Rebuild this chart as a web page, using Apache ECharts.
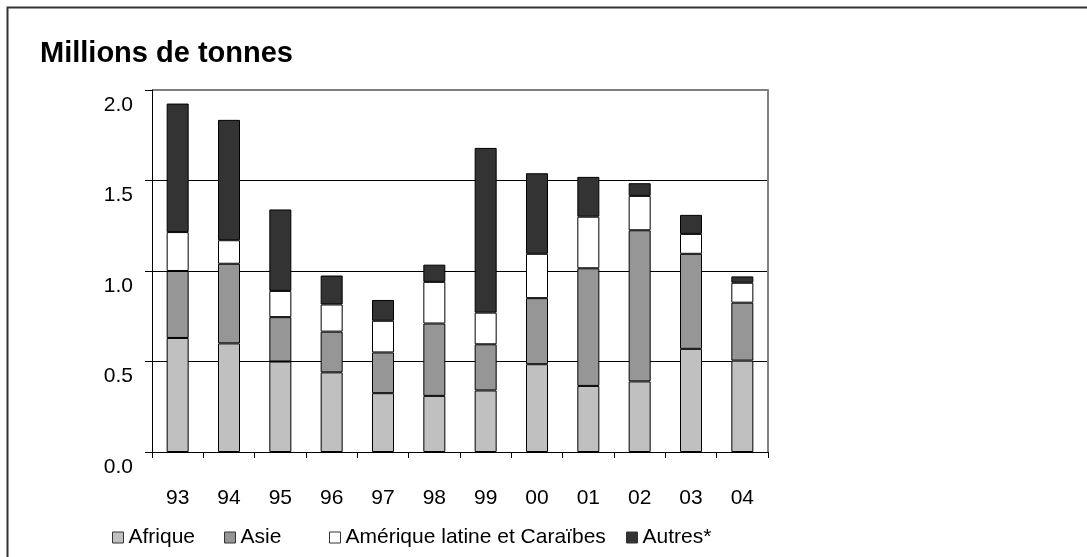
<!DOCTYPE html>
<html>
<head>
<meta charset="utf-8">
<script src="https://cdn.jsdelivr.net/npm/echarts@6/dist/echarts.min.js"></script>
<style>
  html, body { margin: 0; padding: 0; background: #fff; }
  #chart { width: 1087px; height: 557px; }
</style>
</head>
<body>
<div id="chart"></div>
<script>
// Years (2-digit) along the category axis
const years = ['93', '94', '95', '96', '97', '98', '99', '00', '01', '02', '03', '04'];

// Tonnages by region, millions of tonnes
const afrique  = [0.63, 0.60, 0.50, 0.44, 0.325, 0.31, 0.34, 0.485, 0.365, 0.39, 0.57, 0.505];
const asie     = [0.37, 0.44, 0.245, 0.225, 0.225, 0.40, 0.255, 0.365, 0.65, 0.835, 0.525, 0.32];
const amerique = [0.215, 0.13, 0.145, 0.15, 0.175, 0.23, 0.175, 0.245, 0.285, 0.19, 0.11, 0.11];
const autres   = [0.71, 0.665, 0.45, 0.16, 0.115, 0.095, 0.91, 0.445, 0.22, 0.07, 0.105, 0.035];

const seriesNames = ['Afrique', 'Asie', 'Amérique latine et Caraïbes', 'Autres*'];
const seriesData = [afrique, asie, amerique, autres];
const seriesColors = ['#c0c0c0', '#969696', '#ffffff', '#333333'];

const FONT = '"Liberation Sans", Arial, sans-serif';

const chart = echarts.init(document.getElementById('chart'), null, { renderer: 'canvas' });

// One legend block per entry so each sits at its own spot on the line
const legendLefts = [112, 224, 329, 626];
const legends = seriesNames.map((name, i) => ({
  data: [{ name: name, icon: 'rect' }],
  left: legendLefts[i],
  top: 527,
  padding: 0,
  itemWidth: 11,
  itemHeight: 11,
  itemStyle: { borderColor: '#333', borderWidth: 1 },
  textStyle: { fontFamily: FONT, fontSize: 21, color: '#000' },
  selectedMode: false
}));

chart.setOption({
  animation: false,
  backgroundColor: '#ffffff',
  title: {
    text: 'Millions de tonnes',
    left: 40,
    top: 39,
    padding: 0,
    textStyle: { fontFamily: FONT, fontSize: 29, fontWeight: 'bold', color: '#000' }
  },
  legend: legends,
  grid: { left: 152, right: 319, top: 90, bottom: 105, containLabel: false },
  xAxis: {
    type: 'category',
    data: years,
    axisLine: { show: true, lineStyle: { color: '#000', width: 1 } },
    axisTick: { show: true, alignWithLabel: false, length: 6, lineStyle: { color: '#000' } },
    axisLabel: { fontFamily: FONT, fontSize: 21, color: '#000', margin: 36 },
    splitLine: { show: false }
  },
  yAxis: [
    {
      type: 'value',
      min: 0,
      max: 2,
      interval: 0.5,
      axisLine: { show: true, lineStyle: { color: '#000', width: 1 } },
      axisTick: { show: true, length: 7, lineStyle: { color: '#000' } },
      axisLabel: {
        fontFamily: FONT, fontSize: 21, color: '#000', margin: 19,
        lineHeight: 30,
        // empty first line drops each value a little below its gridline
        formatter: v => '\n' + v.toFixed(1)
      },
      splitLine: {
        show: true,
        lineStyle: { color: ['#000', '#000', '#000', '#000', '#808080'], width: 1 }
      }
    },
    {
      // plot-area frame on the right side
      type: 'value',
      position: 'right',
      min: 0,
      max: 2,
      interval: 0.5,
      axisLine: { show: true, lineStyle: { color: '#808080', width: 2 } },
      axisTick: { show: false },
      axisLabel: { show: false },
      splitLine: { show: false }
    }
  ],
  graphic: [
    {
      type: 'polyline',
      shape: { points: [[7.5, 557], [7.5, 7.5], [1087, 7.5]] },
      style: { stroke: '#333', lineWidth: 2, fill: null },
      silent: true
    },
    {
      type: 'line',
      shape: { x1: 152, y1: 90, x2: 768, y2: 90 },
      style: { stroke: '#808080', lineWidth: 2 },
      silent: true
    }
  ],
  series: seriesNames.map((name, i) => ({
    name: name,
    type: 'bar',
    stack: 'total',
    barWidth: 22,
    data: seriesData[i],
    itemStyle: { color: seriesColors[i], borderColor: '#000', borderWidth: 1 }
  }))
});
</script>
</body>
</html>
